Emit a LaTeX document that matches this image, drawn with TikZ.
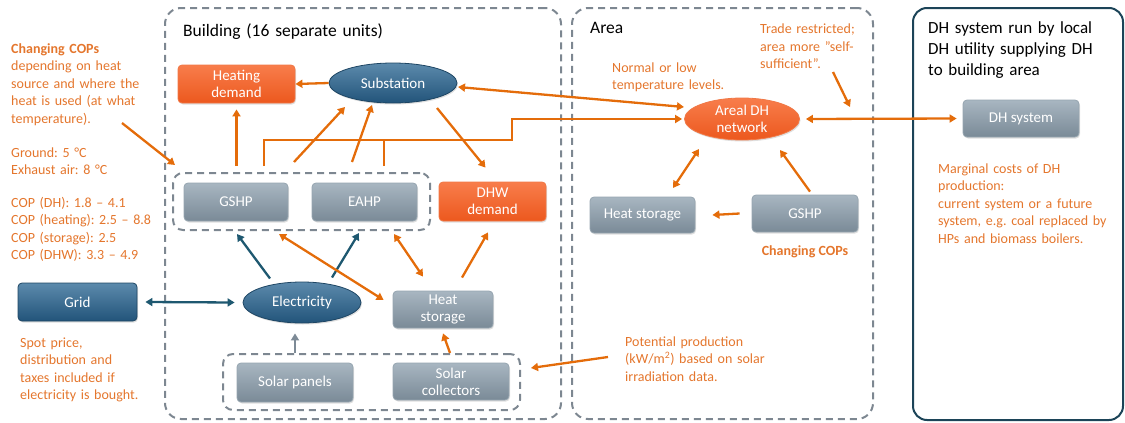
\documentclass[tikz,border=0pt]{standalone}
\usepackage{fontspec}
\setmainfont{Carlito}
\usetikzlibrary{arrows.meta,shapes.geometric,calc,shadows}
\definecolor{arr}{RGB}{228,108,10}
\definecolor{notec}{RGB}{228,118,45}
\definecolor{dashgrey}{RGB}{125,135,145}
\definecolor{barrc}{RGB}{30,88,112}
\definecolor{garrc}{RGB}{125,138,150}
\definecolor{dhborder}{RGB}{28,68,88}
\newcommand\fsz[2]{\fontsize{#1}{#2}\selectfont}
\frenchspacing
\begin{document}
\begin{tikzpicture}[x=1pt,y=-1pt,
  container/.style={draw=dashgrey, line width=2pt, dash pattern=on 7pt off 5pt, rounded corners=16pt, rectangle, inner sep=0pt},
  group/.style={draw=dashgrey, line width=2pt, dash pattern=on 7pt off 5pt, rounded corners=10pt, rectangle, inner sep=0pt},
  shad/.style={drop shadow={opacity=0.25, shadow xshift=1pt, shadow yshift=-1.5pt}},
  boxbase/.style={rectangle, rounded corners=4pt, inner sep=0pt, align=center, font=\fsz{15}{17}, text=white, shad},
  greybox/.style={boxbase, top color={rgb,255:red,168;green,182;blue,193}, bottom color={rgb,255:red,122;green,138;blue,151}, draw={rgb,255:red,150;green,165;blue,176}, line width=0.8pt},
  orangebox/.style={boxbase, top color={rgb,255:red,248;green,125;blue,75}, bottom color={rgb,255:red,236;green,88;blue,30}, draw={rgb,255:red,240;green,120;blue,70}, line width=0.8pt},
  bluebox/.style={boxbase, top color={rgb,255:red,92;green,138;blue,172}, bottom color={rgb,255:red,34;green,84;blue,122}, draw={rgb,255:red,30;green,70;blue,100}, line width=0.8pt},
  blueell/.style={ellipse, inner sep=0pt, align=center, font=\fsz{15}{17}, text=white, shad, top color={rgb,255:red,92;green,138;blue,172}, bottom color={rgb,255:red,34;green,84;blue,122}, draw={rgb,255:red,30;green,70;blue,100}, line width=0.8pt},
  orangeell/.style={ellipse, inner sep=0pt, align=center, font=\fsz{15}{17}, text=white, shad, top color={rgb,255:red,248;green,125;blue,75}, bottom color={rgb,255:red,236;green,88;blue,30}, draw={rgb,255:red,240;green,120;blue,70}, line width=0.8pt},
  oarr/.style={draw=arr, line width=2.3pt, -{Triangle[length=7pt,width=8pt]}},
  oarrb/.style={draw=arr, line width=2.3pt, {Triangle[length=7pt,width=8pt]}-{Triangle[length=7pt,width=8pt]}},
  oline/.style={draw=arr, line width=2.3pt},
  barr/.style={draw=barrc, line width=2.3pt, -{Triangle[length=7pt,width=8pt]}},
  barrb/.style={draw=barrc, line width=2.3pt, {Triangle[length=7pt,width=8pt]}-{Triangle[length=7pt,width=8pt]}},
  garr/.style={draw=garrc, line width=2.3pt, -{Triangle[length=7pt,width=8pt]}},
  note/.style={text=notec, font=\fsz{14}{17.5}, anchor=base west, align=left, inner sep=0pt, text width=220pt},
  title/.style={text=black, font=\fsz{17.5}{21}, anchor=base west, align=left, inner sep=0pt, text width=220pt}
]
\useasboundingbox (0,0) rectangle (1125,423);

% containers
\node[container, minimum width=396pt, minimum height=411pt] (building) at (363,213.5) {};
\node[container, minimum width=301pt, minimum height=411pt] (area) at (722.5,213.5) {};
\node[rectangle, draw=dhborder, line width=2pt, rounded corners=14pt, minimum width=210pt, minimum height=412pt, inner sep=0pt] (dhbox) at (1018,214) {};

% titles
\node[title] (tbuild) at (183,36) {Building (16 separate units)};
\node[title] (tarea) at (590,34) {Area};
\node[title, font=\fsz{17}{21}] (tdh) at (928,33) {DH system run by local\\DH utility supplying DH\\to building area};

% groups
\node[group, minimum width=257pt, minimum height=57pt] (hpgroup) at (301.5,201.5) {};
\node[group, minimum width=297pt, minimum height=56pt] (sgroup) at (371.5,382) {};

% building nodes
\node[orangebox, minimum width=117pt, minimum height=38pt] (heatdem) at (236.5,84) {Heating\\demand};
\node[blueell, minimum width=128pt, minimum height=40pt] (subst) at (393,83) {Substation};
\node[greybox, minimum width=104pt, minimum height=38pt] (gshp) at (236,202) {GSHP};
\node[greybox, minimum width=105pt, minimum height=38pt] (eahp) at (364.5,202) {EAHP};
\node[orangebox, minimum width=107pt, minimum height=39pt] (dhw) at (492.5,201.5) {DHW\\demand};
\node[bluebox, minimum width=119pt, minimum height=38pt] (grid) at (77.5,302) {Grid};
\node[blueell, minimum width=118pt, minimum height=41pt] (elec) at (302,302.5) {Electricity};
\node[greybox, minimum width=100pt, minimum height=37pt] (hstore) at (443,309.5) {Heat\\storage};
\node[greybox, minimum width=116pt, minimum height=39pt] (spanel) at (295,382.5) {Solar panels};
\node[greybox, minimum width=116pt, minimum height=37pt] (scoll) at (451,381.5) {Solar\\collectors};

% area nodes
\node[orangeell, minimum width=115pt, minimum height=42pt] (areal) at (742,119) {Areal DH\\network};
\node[greybox, minimum width=105pt, minimum height=36pt] (ahstore) at (642.5,215) {Heat storage};
\node[greybox, minimum width=106pt, minimum height=37pt] (agshp) at (805,213.5) {GSHP};
\node[greybox, minimum width=116pt, minimum height=37pt] (dhsys) at (1021,118.5) {DH system};

% notes
\node[note] (cop1) at (11,53) {\textbf{Changing COPs}\\depending on heat\\source and where the\\heat is used (at what\\temperature).};
\node[note] (cop2) at (11,157) {Ground: 5 °C\\Exhaust air: 8 °C};
\node[note] (cop3) at (11,207) {COP (DH): 1.8 – 4.1\\COP (heating): 2.5 – 8.8\\COP (storage): 2.5\\COP (DHW): 3.3 – 4.9};
\node[note] (spot) at (20,347) {Spot price,\\distribution and\\taxes included if\\electricity is bought.};
\node[note] (normal) at (612,72) {Normal or low\\temperature levels.};
\node[note, text width=120pt] (trade) at (760,34) {Trade restricted;\\area more ”self-\\sufficient”.};
\node[note] (marg) at (938,173) {Marginal costs of DH\\production:\\current system or a future\\system, e.g. coal replaced by\\HPs and biomass boilers.};
\node[note] (pot) at (625,346) {Potential production\\(kW/m\textsuperscript{2}) based on solar\\irradiation data.};
\node[text=notec, font=\bfseries\fsz{14}{17.5}, anchor=base, inner sep=0pt] (cop4) at (805,255) {Changing COPs};

% free ends
\coordinate (copS) at (122,123);
\coordinate (tradeS) at (833,72);
\coordinate (tradeE) at (850,107);
\coordinate (potS) at (608,357);

% annotation arrows
\draw[oarr] (copS) -- ($(hpgroup.north west)+(3,-7)$);
\draw[oarr] (tradeS) -- (tradeE);
\draw[oarr] (potS) -- ($(sgroup.east)+(10,-14)$);

% building connectors
\draw[oarr] (subst.west) -- (heatdem.east);
\draw[oarr] ($(hpgroup.north -| heatdem.south)+(0,-6)$) -- ($(heatdem.south)+(0,6)$);
\draw[oarr] ($(hpgroup.north west)+(92,-6)$) |- ($(areal.west)+(-172,21)$) |- ($(areal.west)+(-2,0)$);
\draw[oline] ($(hpgroup.north west)+(212,-6)$) -- ++(0,-27);
\draw[oarr] ($(hpgroup.north west)+(122,-10)$) -- ($(subst.center)+(-48,24)$);
\draw[oarr] ($(hpgroup.north west)+(180,-10)$) -- ($(subst.center)+(-21,22)$);
\draw[oarr] ($(subst.center)+(44,25)$) -- ($(dhw.north)+(-7,-14)$);
\draw[oarrb] ($(subst.center)+(65,4)$) -- ($(areal.center)+(-58,-12)$);
\draw[oarrb] ($(areal.east)+(6,0)$) -- ($(dhsys.west)+(-6,0)$);

\draw[barrb] ($(grid.east)+(8,0)$) -- ($(elec.west)+(-8,0)$);
\draw[barr] ($(elec.center)+(-32,-24)$) -- ($(hpgroup.south west)+(65,3)$);
\draw[barr] ($(elec.center)+(30,-25)$) -- ($(hpgroup.south west)+(187,2)$);
\draw[oarrb] ($(hpgroup.south west)+(107,3)$) -- ($(hstore.west)+(-9,-9.5)$);
\draw[oarrb] ($(hpgroup.south west)+(222,3)$) -- ($(hstore.north)+(-20,-14)$);
\draw[oarr] ($(hstore.north)+(19,-13)$) -- ($(dhw.south)+(-4.5,11)$);
\draw[garr] (spanel.north |- sgroup.north) -- ($(spanel.north |- elec.south)+(0,10)$);
\draw[oarr] ($(sgroup.north -| scoll.north)+(-1,0)$) -- ($(hstore.south)+(0,5)$);

% area connectors
\draw[oarrb] ($(areal.center)+(-43,30)$) -- ($(ahstore.center)+(30.5,-27)$);
\draw[oarr] ($(agshp.west)+(-12,0)$) -- ($(ahstore.east)+(17,0)$);
\draw[oarr] ($(agshp.north)+(5,-3)$) -- ($(areal.center)+(38,31)$);
\end{tikzpicture}
\end{document}
